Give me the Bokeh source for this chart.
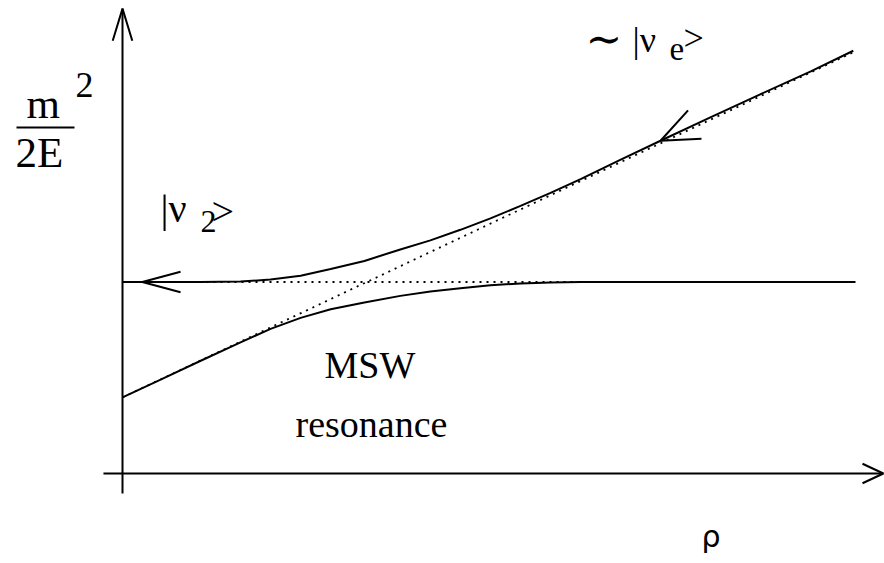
import math

from bokeh.plotting import figure
from bokeh.models import Range1d
from bokeh.core.properties import value
from bokeh.embed import file_html
from bokeh.resources import INLINE

# Effective mass levels m^2/2E (arbitrary units) versus matter density rho
rho_upper = [0.0, 1.06, 1.61, 2.02, 2.43, 2.84, 3.30, 3.79, 4.20, 4.61,
             5.02, 5.43, 5.84, 6.25, 6.79, 7.34, 8.02, 8.70, 9.39, 9.97]
m2_upper = [4.00, 4.00, 4.01, 4.05, 4.13, 4.27, 4.44, 4.68, 4.87, 5.09,
            5.33, 5.59, 5.86, 6.15, 6.55, 6.95, 7.44, 7.92, 8.40, 8.83]

rho_lower = [0.0, 0.52, 1.06, 1.61, 2.02, 2.43, 2.84, 3.30, 3.79, 4.20,
             4.61, 5.02, 5.43, 5.84, 6.25, 6.79, 10.0]
m2_lower = [1.59, 1.96, 2.35, 2.74, 3.02, 3.25, 3.43, 3.57, 3.71, 3.80,
            3.87, 3.93, 3.97, 3.99, 4.00, 4.00, 4.00]

# Unmixed levels (drawn dotted)
level_rho = [0.0, 10.0]
nu2_level = [4.0, 4.0]
nue_level = [1.59, 8.82]

# Extent of the two coordinate axes
rho_axis = [-0.26, 10.38]
m2_axis = [-0.42, 9.71]

W, H = 884, 563
SX, SY = 73.3, 47.875   # pixels per unit along rho and along m^2/2E
X0, Y0 = 122, 473       # pixel position of the origin

p = figure(width=W, height=H, output_backend="svg", toolbar_location=None,
           x_range=Range1d(-X0 / SX, (W - X0) / SX),
           y_range=Range1d(-(H - Y0) / SY, Y0 / SY),
           x_axis_location=None, y_axis_location=None,
           min_border=0, outline_line_color=None,
           background_fill_color="white", border_fill_color="white")
p.grid.visible = False

SERIF = "Liberation Serif"


def at(px, py):
    """Convert a position on the canvas (pixels) to data coordinates."""
    return (px - X0) / SX, (Y0 - py) / SY


def head(tip_r, tip_m, back_deg, length, half_deg, width=2):
    """Open arrowhead: two strokes leaving the tip around the back direction."""
    xs, ys = [], []
    for ang in (back_deg + half_deg, None, back_deg - half_deg):
        if ang is None:
            xs.append(tip_r)
            ys.append(tip_m)
        else:
            a = math.radians(ang)
            xs.append(tip_r + length * math.cos(a) / SX)
            ys.append(tip_m + length * math.sin(a) / SY)
    p.line(xs, ys, line_color="black", line_width=width)


def label(px, py, s, size, font=SERIF):
    """Text whose left end and baseline sit at the given canvas position."""
    x, y = at(px, py - 0.36 * size)
    p.text(x=[x], y=[y], text=[s], text_font=value(font),
           text_font_size=f"{size}px", text_align="left",
           text_baseline="alphabetic", text_color="black")


# axes
p.line([0, 0], m2_axis, line_color="black", line_width=2)
p.line(rho_axis, [0, 0], line_color="black", line_width=2)
head(0, m2_axis[1], -90, 33.5, 17)
head(rho_axis[1], 0, 180, 23, 25)

# unmixed levels
p.line(level_rho, nu2_level, line_color="#000000", line_width=1.8, line_dash="2 5")
p.line(level_rho, nue_level, line_color="#000000", line_width=1.8, line_dash="2 5")

# matter eigenstates
p.line(rho_upper, m2_upper, line_color="black", line_width=2)
p.line(rho_lower, m2_lower, line_color="black", line_width=2)

# direction arrows along the upper branch
i = rho_upper.index(7.34)
back = math.degrees(math.atan2((m2_upper[i + 1] - m2_upper[i - 1]) * SY,
                               (rho_upper[i + 1] - rho_upper[i - 1]) * SX))
head(rho_upper[i], m2_upper[i], back, 41, 22.5)
head(0.27, nu2_level[0], 0, 39.6, 15)

# y-axis label  m^2 / 2E
label(26, 118, "m", 43)
label(75, 97, "2", 36)
label(15, 167, "2E", 43)
bx0, by0 = at(16, 127)
bx1, by1 = at(74, 127)
p.line([bx0, bx1], [by0, by1], line_color="black", line_width=2)

# state labels
label(160, 222, "|ν", 40)
label(200, 233, "2", 32)
label(211, 225, ">", 40)

label(585, 54, "∼", 44, "DejaVu Serif")
label(632, 52, "|ν", 36)
label(669, 60, "e", 33)
label(683, 50, ">", 36)

label(324, 378, "MSW", 38)
label(295, 437, "resonance", 38)

label(701, 547, "ρ", 30, "DejaVu Sans")

open("out.html", "w").write(file_html(p, INLINE))
